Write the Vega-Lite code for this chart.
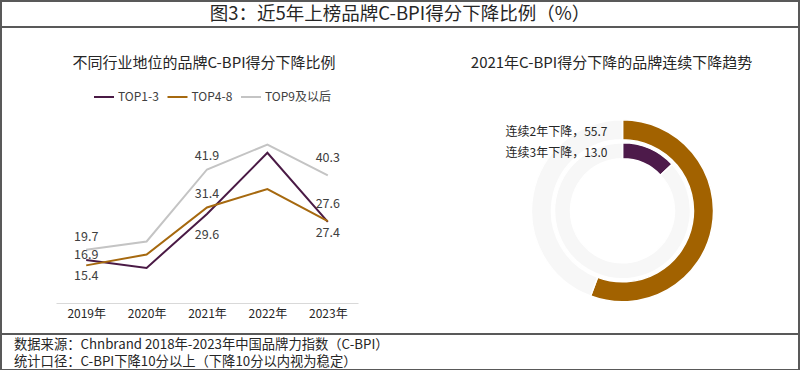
{
  "$schema": "https://vega.github.io/schema/vega-lite/v6.json",
  "padding": 0,
  "background": "white",
  "autosize": {"type": "pad"},
  "config": {
    "font": "Noto Sans CJK SC",
    "view": {"stroke": null},
    "concat": {"spacing": 0},
    "title": {"font": "Noto Sans CJK SC", "fontWeight": "normal", "color": "#262626"}
  },
  "spacing": 0,
  "hconcat": [
    {"width": 2, "height": 370, "view": {"fill": "#595959", "stroke": null}, "data": {"values": []}, "mark": "point", "encoding": {}},
    {
      "spacing": 0,
      "vconcat": [
        {"width": 796, "height": 2, "view": {"fill": "#595959", "stroke": null}, "data": {"values": []}, "mark": "point", "encoding": {}},
        {
          "width": 796, "height": 24,
          "data": {"values": [{"t": "图3：近5年上榜品牌C-BPI得分下降比例（%）"}]},
          "mark": {"type": "text", "fontSize": 18.5, "color": "#262626", "baseline": "middle", "align": "center"},
          "encoding": {"text": {"field": "t"}}
        },
        {"width": 796, "height": 2, "view": {"fill": "#595959", "stroke": null}, "data": {"values": []}, "mark": "point", "encoding": {}},
        {
          "spacing": 0,
          "resolve": {"scale": {"color": "independent", "x": "independent", "y": "independent", "theta": "independent"}, "legend": {"color": "independent"}},
          "hconcat": [
            {"width": 54, "height": 305, "data": {"values": []}, "mark": "point", "encoding": {}},
            {
              "width": 302, "height": 275,
              "title": {"text": "不同行业地位的品牌C-BPI得分下降比例", "fontSize": 15, "offset": -43, "dx": -3, "anchor": "middle"},
              "data": {"values": [
                {"year": "2019年", "s": "TOP1-3", "v": 16.9},
                {"year": "2020年", "s": "TOP1-3", "v": 14.7},
                {"year": "2021年", "s": "TOP1-3", "v": 29.6},
                {"year": "2022年", "s": "TOP1-3", "v": 46.5},
                {"year": "2023年", "s": "TOP1-3", "v": 27.4},
                {"year": "2019年", "s": "TOP4-8", "v": 15.4},
                {"year": "2020年", "s": "TOP4-8", "v": 18.4},
                {"year": "2021年", "s": "TOP4-8", "v": 31.4},
                {"year": "2022年", "s": "TOP4-8", "v": 36.5},
                {"year": "2023年", "s": "TOP4-8", "v": 27.6},
                {"year": "2019年", "s": "TOP9及以后", "v": 19.7},
                {"year": "2020年", "s": "TOP9及以后", "v": 22.0},
                {"year": "2021年", "s": "TOP9及以后", "v": 41.9},
                {"year": "2022年", "s": "TOP9及以后", "v": 48.8},
                {"year": "2023年", "s": "TOP9及以后", "v": 40.3}
              ]},
              "encoding": {
                "x": {"field": "year", "type": "ordinal", "sort": null,
                  "axis": {"title": null, "labelAngle": 0, "ticks": false, "grid": false, "domainColor": "#d9d9d9", "domainWidth": 1, "labelColor": "#262626", "labelFontSize": 12, "labelPadding": 5}},
                "y": {"field": "v", "type": "quantitative", "scale": {"domain": [5, 81], "nice": false, "zero": false}, "axis": null}
              },
              "layer": [
                {
                  "mark": {"type": "line", "strokeWidth": 2},
                  "encoding": {
                    "color": {"field": "s", "type": "nominal",
                      "scale": {"domain": ["TOP1-3", "TOP4-8", "TOP9及以后"], "range": ["#4a1a45", "#a6690f", "#c4c4c4"]},
                      "legend": {"orient": "none", "legendX": 37, "legendY": 58, "direction": "horizontal", "title": null, "symbolType": "stroke", "symbolStrokeWidth": 2, "symbolSize": 400, "labelFontSize": 12, "labelColor": "#404040", "columnPadding": 4.5, "labelOffset": 3}}
                  }
                },
                {
                  "transform": [{"filter": "(datum.s === 'TOP9及以后' && (datum.year === '2019年' || datum.year === '2021年')) || (datum.s === 'TOP4-8' && datum.year === '2021年')"}],
                  "mark": {"type": "text", "fontSize": 12.5, "color": "#404040", "baseline": "middle", "dy": -13},
                  "encoding": {"text": {"field": "v", "type": "quantitative", "format": ".1f"}}
                },
                {
                  "transform": [{"filter": "datum.year === '2023年' && (datum.s === 'TOP9及以后' || datum.s === 'TOP4-8')"}],
                  "mark": {"type": "text", "fontSize": 12.5, "color": "#404040", "baseline": "middle", "dy": -17},
                  "encoding": {"text": {"field": "v", "type": "quantitative", "format": ".1f"}}
                },
                {
                  "transform": [{"filter": "(datum.s === 'TOP4-8' && datum.year === '2019年') || (datum.s === 'TOP1-3' && datum.year === '2023年')"}],
                  "mark": {"type": "text", "fontSize": 12.5, "color": "#404040", "baseline": "middle", "dy": 11},
                  "encoding": {"text": {"field": "v", "type": "quantitative", "format": ".1f"}}
                },
                {
                  "transform": [{"filter": "datum.s === 'TOP1-3' && datum.year === '2019年'"}],
                  "mark": {"type": "text", "fontSize": 12.5, "color": "#404040", "baseline": "middle", "dy": -5},
                  "encoding": {"text": {"field": "v", "type": "quantitative", "format": ".1f"}}
                },
                {
                  "transform": [{"filter": "datum.s === 'TOP1-3' && datum.year === '2021年'"}],
                  "mark": {"type": "text", "fontSize": 12.5, "color": "#404040", "baseline": "middle", "dy": 21},
                  "encoding": {"text": {"field": "v", "type": "quantitative", "format": ".1f"}}
                }
              ]
            },
            {"width": 89, "height": 10, "data": {"values": []}, "mark": "point", "encoding": {}},
            {
              "width": 351, "height": 305,
              "title": {"text": "2021年C-BPI得分下降的品牌连续下降趋势", "fontSize": 15, "offset": -43, "dx": -11, "anchor": "middle"},
              "data": {"values": [
                {"ring": "连续2年下降", "k": "连续2年下降", "o": 1, "v": 55.7, "label": "连续2年下降，55.7"},
                {"ring": "连续2年下降", "k": "其他", "o": 2, "v": 44.3, "label": ""},
                {"ring": "连续3年下降", "k": "连续3年下降", "o": 1, "v": 13.0, "label": "连续3年下降，13.0"},
                {"ring": "连续3年下降", "k": "其他", "o": 2, "v": 87.0, "label": ""}
              ]},
              "layer": [
                {
                  "transform": [{"filter": "datum.ring === '连续2年下降'"}],
                  "mark": {"type": "arc", "radius": 91, "radius2": 71, "yOffset": 30.3, "stroke": "white", "strokeWidth": 1.5},
                  "encoding": {
                    "theta": {"field": "v", "type": "quantitative", "stack": true},
                    "order": {"field": "o", "type": "quantitative"},
                    "color": {"field": "k", "type": "nominal", "scale": {"domain": ["连续2年下降", "连续3年下降", "其他"], "range": ["#a26200", "#4d1a4a", "#f7f7f7"]}, "legend": null}
                  }
                },
                {
                  "transform": [{"filter": "datum.ring === '连续3年下降'"}],
                  "mark": {"type": "arc", "radius": 68, "radius2": 52, "yOffset": 30.3, "stroke": "white", "strokeWidth": 1.5},
                  "encoding": {
                    "theta": {"field": "v", "type": "quantitative", "stack": true},
                    "order": {"field": "o", "type": "quantitative"},
                    "color": {"field": "k", "type": "nominal", "scale": {"domain": ["连续2年下降", "连续3年下降", "其他"], "range": ["#a26200", "#4d1a4a", "#f7f7f7"]}, "legend": null}
                  }
                },
                {
                  "transform": [{"filter": "datum.ring === '连续2年下降' && datum.o === 1"}],
                  "mark": {"type": "text", "align": "right", "baseline": "middle", "dx": -15, "dy": -48.2, "fontSize": 12, "color": "#262626"},
                  "encoding": {"text": {"field": "label"}}
                },
                {
                  "transform": [{"filter": "datum.ring === '连续3年下降' && datum.o === 1"}],
                  "mark": {"type": "text", "align": "right", "baseline": "middle", "dx": -15, "dy": -27.8, "fontSize": 12, "color": "#262626"},
                  "encoding": {"text": {"field": "label"}}
                }
              ]
            }
          ]
        },
        {"width": 796, "height": 2, "view": {"fill": "#595959", "stroke": null}, "data": {"values": []}, "mark": "point", "encoding": {}},
        {
          "width": 796, "height": 33,
          "data": {"values": [
            {"line": 1, "t": "数据来源：Chnbrand 2018年-2023年中国品牌力指数（C-BPI）"},
            {"line": 2, "t": "统计口径：C-BPI下降10分以上（下降10分以内视为稳定）"}
          ]},
          "mark": {"type": "text", "align": "left", "baseline": "middle", "fontSize": 13.3, "color": "#262626", "dx": 12, "dy": 2},
          "encoding": {
            "y": {"field": "line", "type": "ordinal", "axis": null, "scale": {"type": "point", "padding": 0.43}},
            "x": {"datum": 0, "type": "quantitative", "scale": {"domain": [0, 1]}, "axis": null},
            "text": {"field": "t"}
          }
        },
        {"width": 796, "height": 2, "view": {"fill": "#595959", "stroke": null}, "data": {"values": []}, "mark": "point", "encoding": {}}
      ]
    },
    {"width": 2, "height": 370, "view": {"fill": "#595959", "stroke": null}, "data": {"values": []}, "mark": "point", "encoding": {}}
  ]
}
